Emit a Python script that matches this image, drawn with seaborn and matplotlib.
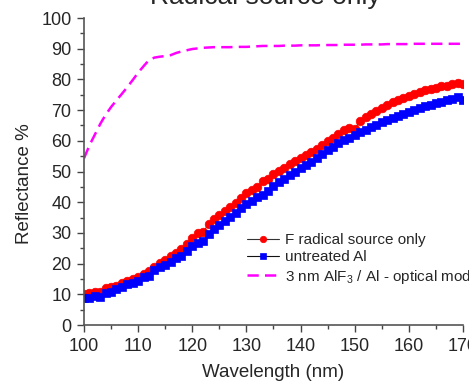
import pandas as pd
import matplotlib
matplotlib.use('Agg')
import matplotlib.pyplot as plt
import seaborn as sns
from matplotlib.ticker import MultipleLocator

# wavelength in nm, one point per nm
wavelength = list(range(100, 171))

# F radical source only (red circles)
f_radical = [10.0, 10.3, 10.6, 10.8, 12.0, 12.3, 12.7, 13.6, 14.5, 15.0,
             15.6, 16.6, 17.5, 19.0, 20.2, 21.2, 22.4, 23.5, 24.6, 26.5,
             28.3, 30.0, 30.3, 32.8, 34.4, 35.8, 37.2, 38.6, 39.9, 41.3,
             43.0, 44.0, 45.0, 46.8, 47.5, 49.3, 50.2, 51.2, 52.3, 53.3,
             54.3, 55.3, 56.4, 57.4, 58.6, 59.8, 61.0, 62.1, 63.6, 64.3,
             64.0, 66.4, 67.6, 68.7, 69.8, 70.8, 71.7, 72.5, 73.3, 74.0,
             74.7, 75.3, 75.9, 76.4, 76.9, 77.3, 77.7, 78.0, 78.4, 78.8,
             78.5]

# untreated Al (blue squares)
untreated = [8.7, 8.7, 9.4, 9.0, 10.5, 10.6, 11.6, 12.3, 13.2, 13.8,
             14.4, 15.6, 16.0, 17.8, 18.8, 19.5, 20.6, 21.8, 22.5, 24.0,
             25.8, 26.8, 27.3, 29.8, 31.2, 32.5, 34.0, 35.3, 36.5, 38.0,
             39.3, 40.4, 41.7, 42.4, 43.5, 45.4, 46.5, 47.6, 48.8, 49.9,
             51.0, 52.0, 53.2, 54.5, 55.8, 57.0, 58.0, 59.2, 60.2, 61.0,
             62.0, 62.8, 63.6, 64.4, 65.3, 66.0, 66.8, 67.5, 68.1, 68.8,
             69.5, 70.1, 70.6, 71.2, 71.7, 72.3, 72.8, 73.3, 73.7, 74.2,
             73.2]

# 3 nm AlF3 / Al optical model (magenta dashed)
model = [54.3, 58.5, 62.0, 65.5, 68.5, 71.0, 73.2, 75.3, 77.5, 79.8,
         82.2, 84.3, 86.3, 87.1, 87.4, 87.6, 87.9, 88.6, 89.1, 89.5,
         89.9, 90.1, 90.3, 90.4, 90.5, 90.5, 90.5, 90.5, 90.6, 90.6,
         90.6, 90.7, 90.8, 90.9, 90.9, 90.9, 90.9, 91.0, 91.0, 91.0,
         91.1, 91.1, 91.1, 91.1, 91.2, 91.2, 91.2, 91.2, 91.3, 91.3,
         91.3, 91.3, 91.4, 91.4, 91.4, 91.4, 91.5, 91.5, 91.5, 91.5,
         91.5, 91.6, 91.6, 91.6, 91.6, 91.6, 91.6, 91.6, 91.6, 91.6,
         91.6]

df = pd.DataFrame({'Wavelength': wavelength, 'F radical': f_radical,
                   'untreated': untreated, 'model': model})

sns.set_style('ticks')
plt.rcParams['font.family'] = ['Liberation Sans', 'DejaVu Sans']
plt.rcParams['mathtext.fontset'] = 'custom'
plt.rcParams['mathtext.rm'] = 'Liberation Sans'

fig = plt.figure(figsize=(4.69, 3.84), dpi=100)
ax = fig.add_axes([0.1791, 0.1536, 0.8081, 0.7995])

sns.lineplot(data=df, x='Wavelength', y='F radical', ax=ax, color='#333333',
             linewidth=0.8, marker='o', markersize=6.2, markerfacecolor='red',
             markeredgecolor='red', markeredgewidth=0.5,
             label='F radical source only')
sns.lineplot(data=df, x='Wavelength', y='untreated', ax=ax, color='#111111',
             linewidth=0.8, marker='s', markersize=5.6, markerfacecolor='blue',
             markeredgecolor='blue', markeredgewidth=0.5,
             label='untreated Al')
sns.lineplot(data=df, x='Wavelength', y='model', ax=ax, color='magenta',
             linewidth=1.8, linestyle=(0, (4.5, 2.5)),
             label=r'3 nm AlF$_\mathregular{3}$ / Al - optical model')

ax.set_xlim(100, 170)
ax.set_ylim(0, 100)
ax.xaxis.set_major_locator(MultipleLocator(10))
ax.xaxis.set_minor_locator(MultipleLocator(5))
ax.yaxis.set_major_locator(MultipleLocator(10))
ax.yaxis.set_minor_locator(MultipleLocator(5))
ax.tick_params(which='major', direction='out', length=5, width=1,
               labelsize=13, pad=4, color='#444444')
ax.tick_params(which='minor', direction='out', length=3, width=1,
               color='#444444')

sns.despine(ax=ax)
for side in ['left', 'bottom']:
    ax.spines[side].set_color('#555555')
    ax.spines[side].set_linewidth(1.2)

ax.set_xlabel('Wavelength (nm)', fontsize=13.5)
ax.set_ylabel('Reflectance %', fontsize=13.5)
ax.yaxis.set_label_coords(-0.135, 0.459)
ax.xaxis.set_label_coords(0.5, -0.128)

# title is cut by the top edge in the reference
fig.text(265 / 469, 1 - 4 / 384, 'Radical source only', fontsize=19,
         ha='center', va='baseline')

ax.legend(loc='upper left', bbox_to_anchor=(0.43, 0.30), frameon=False,
          fontsize=11, handlelength=2.1, handletextpad=0.4, labelspacing=0.22,
          borderpad=0, borderaxespad=0, markerscale=0.75)

plt.savefig('out.png', dpi=100)
